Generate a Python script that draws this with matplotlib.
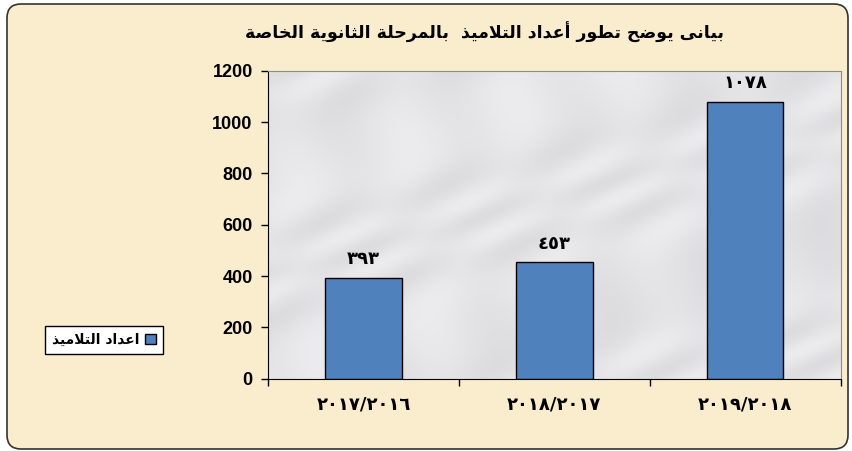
"""Bar chart: number of students in private secondary stage (Arabic labels)."""

import matplotlib

matplotlib.use("Agg")
import matplotlib.pyplot as plt
import numpy as np
from matplotlib.patches import FancyBboxPatch, Patch

# ---- data -------------------------------------------------------------
years = ["٢٠١٧/٢٠١٦", "٢٠١٨/٢٠١٧", "٢٠١٩/٢٠١٨"]
students = [393, 453, 1078]
value_labels = ["٣٩٣", "٤٥٣", "١٠٧٨"]
y_ticks = [0, 200, 400, 600, 800, 1000, 1200]

title = "بيانى يوضح تطور أعداد التلاميذ  بالمرحلة الثانوية الخاصة"
series_name = "اعداد التلاميذ"

BAR_COLOR = "#4F81BD"
PAPER = "#F9EDCD"

# ---- minimal arabic shaping (matplotlib draws glyphs left to right) ----
# letter -> (isolated, final, initial, medial); right-joining letters have no initial/medial
FORMS = {
    "ا": ("\uFE8D", "\uFE8E", None, None),
    "أ": ("\uFE83", "\uFE84", None, None),
    "ب": ("\uFE8F", "\uFE90", "\uFE91", "\uFE92"),
    "ة": ("\uFE93", "\uFE94", None, None),
    "ت": ("\uFE95", "\uFE96", "\uFE97", "\uFE98"),
    "ث": ("\uFE99", "\uFE9A", "\uFE9B", "\uFE9C"),
    "ح": ("\uFEA1", "\uFEA2", "\uFEA3", "\uFEA4"),
    "خ": ("\uFEA5", "\uFEA6", "\uFEA7", "\uFEA8"),
    "د": ("\uFEA9", "\uFEAA", None, None),
    "ذ": ("\uFEAB", "\uFEAC", None, None),
    "ر": ("\uFEAD", "\uFEAE", None, None),
    "ص": ("\uFEB9", "\uFEBA", "\uFEBB", "\uFEBC"),
    "ض": ("\uFEBD", "\uFEBE", "\uFEBF", "\uFEC0"),
    "ط": ("\uFEC1", "\uFEC2", "\uFEC3", "\uFEC4"),
    "ع": ("\uFEC9", "\uFECA", "\uFECB", "\uFECC"),
    "ل": ("\uFEDD", "\uFEDE", "\uFEDF", "\uFEE0"),
    "م": ("\uFEE1", "\uFEE2", "\uFEE3", "\uFEE4"),
    "ن": ("\uFEE5", "\uFEE6", "\uFEE7", "\uFEE8"),
    "ه": ("\uFEE9", "\uFEEA", "\uFEEB", "\uFEEC"),
    "و": ("\uFEED", "\uFEEE", None, None),
    "ى": ("\uFEEF", "\uFEF0", None, None),
    "ي": ("\uFEF1", "\uFEF2", "\uFEF3", "\uFEF4"),
    "لا": ("\uFEFB", "\uFEFC", None, None),
    "لأ": ("\uFEF7", "\uFEF8", None, None),
}


def shape(text):
    tokens = []
    i = 0
    while i < len(text):
        if text[i : i + 2] in ("لا", "لأ"):
            tokens.append(text[i : i + 2])
            i += 2
        else:
            tokens.append(text[i])
            i += 1
    out = []
    for k, tok in enumerate(tokens):
        if tok not in FORMS:
            out.append(tok)
            continue
        prev = tokens[k - 1] if k > 0 else None
        nxt = tokens[k + 1] if k + 1 < len(tokens) else None
        join_prev = prev in FORMS and FORMS[prev][2] is not None
        join_next = FORMS[tok][2] is not None and nxt in FORMS
        iso, fin, ini, med = FORMS[tok]
        if join_prev and join_next:
            out.append(med)
        elif join_prev:
            out.append(fin)
        elif join_next:
            out.append(ini)
        else:
            out.append(iso)
    return "".join(reversed(out))


plt.rcParams["font.family"] = ["DejaVu Sans"]

fig = plt.figure(figsize=(8.53, 4.51), dpi=100, facecolor="white")

# rounded chart-area frame, drawn in pixel units
bg = fig.add_axes([0, 0, 1, 1], zorder=-10)
bg.set_xlim(0, 853)
bg.set_ylim(451, 0)
bg.axis("off")
r = 14
bg.add_patch(
    FancyBboxPatch(
        (7 + r, 4 + r), 841 - 2 * r, 445 - 2 * r,
        boxstyle=f"round,pad={r}", facecolor=PAPER, edgecolor="#333333", linewidth=1.2,
    )
)

ax = fig.add_axes([268 / 853, 1 - 378.7 / 451, 572.7 / 853, 308 / 451])

# soft grey "marble" fill with faint diagonal veins (decoration only)
gx, gy = np.meshgrid(np.linspace(0, 1, 400), np.linspace(0, 1, 220))
veins = np.sin(28 * (gx - 0.8 * gy) + 2.5 * np.sin(9 * gy - 4 * gx)) * np.sin(11 * gx + 7 * gy)
shade = 0.895 + 0.03 * veins
ax.imshow(np.dstack([shade, shade, shade + 0.01]).clip(0, 1), extent=(-0.5, 2.5, 0, 1200),
          aspect="auto", origin="lower", zorder=0, interpolation="bilinear")

x = range(len(years))
bars = ax.bar(x, students, width=0.4, color=BAR_COLOR, edgecolor="black", linewidth=1.0,
              zorder=2)

for b, lab in zip(bars, value_labels):
    ax.annotate(
        lab, (b.get_x() + b.get_width() / 2, b.get_height()),
        xytext=(0, 7), textcoords="offset points", ha="center", va="bottom",
        fontsize=13, fontweight="bold",
    )

ax.set_xlim(-0.5, len(years) - 0.5)
ax.set_ylim(0, 1200)
ax.set_yticks(y_ticks)
ax.set_yticklabels([str(v) for v in y_ticks], family="Liberation Sans", fontsize=13,
                   fontweight="bold")
ax.set_xticks(list(x))
ax.set_xticklabels(years, fontsize=13, fontweight="bold")
ax.set_xticks([i - 0.5 for i in range(len(years) + 1)], minor=True)
ax.tick_params(axis="x", which="major", length=0, pad=12)
ax.tick_params(axis="x", which="minor", length=5, width=1, direction="out")
ax.tick_params(axis="y", length=5, width=1, direction="out", pad=6)

for side in ("top", "right"):
    ax.spines[side].set_color("#8C8C8C")
for side in ("left", "bottom"):
    ax.spines[side].set_color("black")

fig.text(485 / 853, 1 - 32 / 451, shape(title), ha="center", va="center",
         fontsize=12.5, fontweight="bold")

fig.legend(
    handles=[Patch(facecolor=BAR_COLOR, edgecolor="black", label=shape(series_name))],
    loc="center", bbox_to_anchor=(104 / 853, 1 - 340 / 451),
    markerfirst=False, fancybox=False, framealpha=1, edgecolor="black",
    handlelength=0.8, handleheight=0.8, handletextpad=0.4, borderpad=0.5,
    prop={"size": 10, "weight": "bold"},
)

fig.savefig("out.png", dpi=100)
